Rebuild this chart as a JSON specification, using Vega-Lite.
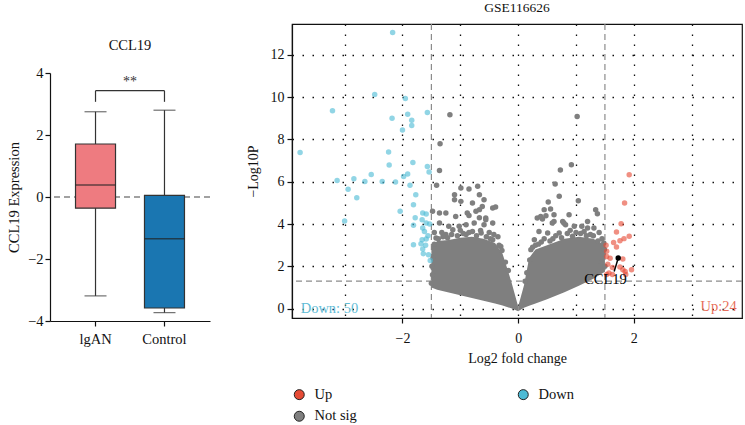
{
  "$schema": "https://vega.github.io/schema/vega-lite/v6.json",
  "background": "white",
  "padding": {"left": 6, "top": 0, "right": 0, "bottom": 0},
  "config": {
    "font": "Liberation Serif",
    "view": {"stroke": null},
    "axis": {"labelFont": "Liberation Serif", "titleFont": "Liberation Serif", "labelColor": "#111", "titleColor": "#111", "titleFontWeight": "normal", "domainColor": "#111", "tickColor": "#111", "domainWidth": 1.2, "tickWidth": 1.2},
    "title": {"font": "Liberation Serif", "fontWeight": "normal", "color": "#111"},
    "legend": {"labelFont": "Liberation Serif", "labelColor": "#111"}
  },
  "datasets": {
    "box": [
      {"group": "lgAN", "lower": -3.19, "q1": -0.36, "median": 0.39, "q3": 1.71, "upper": 2.75},
      {"group": "Control", "lower": -3.73, "q1": -3.58, "median": -1.35, "q3": 0.05, "upper": 2.8}
    ],
    "bracketH": [{"from": "lgAN", "to": "Control", "y": 3.43, "label": "**", "ly": 3.72}],
    "bracketV": [{"group": "lgAN", "ya": 3.07, "yb": 3.43}, {"group": "Control", "ya": 3.07, "yb": 3.43}],
    "zero": [{"y": 0}],
    "mass": [
      {"wing": "L", "x": -1.5, "lo": 1.0, "hi": 2.95},
      {"wing": "L", "x": -1.4, "lo": 0.9, "hi": 3.2},
      {"wing": "L", "x": -1.2, "lo": 0.77, "hi": 3.25},
      {"wing": "L", "x": -1.0, "lo": 0.64, "hi": 3.35},
      {"wing": "L", "x": -0.8, "lo": 0.5, "hi": 3.4},
      {"wing": "L", "x": -0.6, "lo": 0.37, "hi": 3.3},
      {"wing": "L", "x": -0.4, "lo": 0.24, "hi": 3.1},
      {"wing": "L", "x": -0.27, "lo": 0.15, "hi": 2.6},
      {"wing": "L", "x": -0.12, "lo": 0.02, "hi": 1.3},
      {"wing": "L", "x": 0, "lo": -0.12, "hi": 0.1},
      {"wing": "R", "x": 0, "lo": -0.12, "hi": 0.1},
      {"wing": "R", "x": 0.1, "lo": 0.05, "hi": 1.1},
      {"wing": "R", "x": 0.19, "lo": 0.14, "hi": 2.4},
      {"wing": "R", "x": 0.3, "lo": 0.25, "hi": 2.8},
      {"wing": "R", "x": 0.5, "lo": 0.45, "hi": 3.0},
      {"wing": "R", "x": 0.8, "lo": 0.78, "hi": 3.3},
      {"wing": "R", "x": 1.05, "lo": 1.08, "hi": 3.4},
      {"wing": "R", "x": 1.3, "lo": 1.42, "hi": 3.3},
      {"wing": "R", "x": 1.5, "lo": 1.75, "hi": 3.0}
    ],
    "pts": [
      {"x": -1.18, "y": 9.16, "cat": "Not sig"}, {"x": -1.35, "y": 7.79, "cat": "Not sig"}, {"x": -1.36, "y": 6.53, "cat": "Not sig"},
      {"x": 1.02, "y": 9.08, "cat": "Not sig"}, {"x": 0.92, "y": 6.8, "cat": "Not sig"}, {"x": 0.73, "y": 6.55, "cat": "Not sig"},
      {"x": -1.41, "y": 5.83, "cat": "Not sig"}, {"x": -1.1, "y": 5.38, "cat": "Not sig"}, {"x": -0.99, "y": 5.7, "cat": "Not sig"},
      {"x": -0.85, "y": 5.65, "cat": "Not sig"}, {"x": -0.7, "y": 5.78, "cat": "Not sig"}, {"x": -0.67, "y": 5.38, "cat": "Not sig"},
      {"x": -1.1, "y": 5.15, "cat": "Not sig"}, {"x": -0.99, "y": 5.07, "cat": "Not sig"}, {"x": -0.79, "y": 4.99, "cat": "Not sig"},
      {"x": -0.59, "y": 5.15, "cat": "Not sig"}, {"x": -0.62, "y": 4.83, "cat": "Not sig"}, {"x": -1.48, "y": 4.6, "cat": "Not sig"},
      {"x": -1.36, "y": 4.52, "cat": "Not sig"}, {"x": -1.25, "y": 4.52, "cat": "Not sig"}, {"x": -1.08, "y": 4.36, "cat": "Not sig"},
      {"x": -0.88, "y": 4.52, "cat": "Not sig"}, {"x": -0.73, "y": 4.6, "cat": "Not sig"}, {"x": -0.67, "y": 4.68, "cat": "Not sig"},
      {"x": -0.44, "y": 4.76, "cat": "Not sig"}, {"x": -0.39, "y": 4.8, "cat": "Not sig"}, {"x": -0.85, "y": 4.4, "cat": "Not sig"},
      {"x": -0.67, "y": 4.3, "cat": "Not sig"}, {"x": -0.56, "y": 4.28, "cat": "Not sig"}, {"x": -0.44, "y": 4.05, "cat": "Not sig"},
      {"x": -0.59, "y": 3.97, "cat": "Not sig"}, {"x": -0.76, "y": 4.05, "cat": "Not sig"}, {"x": -0.9, "y": 3.97, "cat": "Not sig"},
      {"x": -0.79, "y": 3.65, "cat": "Not sig"}, {"x": -0.64, "y": 3.58, "cat": "Not sig"}, {"x": -0.44, "y": 3.26, "cat": "Not sig"},
      {"x": -0.3, "y": 2.94, "cat": "Not sig"}, {"x": -1.36, "y": 4.05, "cat": "Not sig"}, {"x": -1.42, "y": 3.34, "cat": "Not sig"},
      {"x": -1.25, "y": 3.5, "cat": "Not sig"}, {"x": -1.13, "y": 3.73, "cat": "Not sig"}, {"x": -1.02, "y": 3.89, "cat": "Not sig"},
      {"x": -0.9, "y": 3.5, "cat": "Not sig"}, {"x": -0.56, "y": 4.2, "cat": "Not sig"}, {"x": -1.2, "y": 3.9, "cat": "Not sig"},
      {"x": -1.45, "y": 3.6, "cat": "Not sig"}, {"x": -1.47, "y": 2.4, "cat": "Not sig"}, {"x": -1.48, "y": 1.6, "cat": "Not sig"},
      {"x": -1.05, "y": 3.45, "cat": "Not sig"}, {"x": -0.5, "y": 3.6, "cat": "Not sig"}, {"x": -0.35, "y": 3.4, "cat": "Not sig"},
      {"x": -1.45, "y": 3.05, "cat": "Not sig"}, {"x": -1.38, "y": 3.3, "cat": "Not sig"}, {"x": -1.3, "y": 3.4, "cat": "Not sig"},
      {"x": -1.22, "y": 3.35, "cat": "Not sig"}, {"x": -1.15, "y": 3.5, "cat": "Not sig"}, {"x": -0.95, "y": 3.55, "cat": "Not sig"},
      {"x": -0.85, "y": 3.6, "cat": "Not sig"}, {"x": -0.72, "y": 3.45, "cat": "Not sig"}, {"x": -0.65, "y": 3.7, "cat": "Not sig"},
      {"x": -0.55, "y": 3.4, "cat": "Not sig"}, {"x": -0.48, "y": 3.3, "cat": "Not sig"}, {"x": -0.42, "y": 3.5, "cat": "Not sig"},
      {"x": -0.33, "y": 3.0, "cat": "Not sig"}, {"x": -0.28, "y": 2.75, "cat": "Not sig"}, {"x": -0.22, "y": 2.2, "cat": "Not sig"},
      {"x": -0.17, "y": 1.8, "cat": "Not sig"}, {"x": -1.49, "y": 2.0, "cat": "Not sig"}, {"x": -1.5, "y": 1.2, "cat": "Not sig"},
      {"x": -1.32, "y": 3.6, "cat": "Not sig"}, {"x": -1.0, "y": 3.7, "cat": "Not sig"},
      {"x": 0.64, "y": 5.89, "cat": "Not sig"}, {"x": 0.71, "y": 5.31, "cat": "Not sig"}, {"x": 1.04, "y": 5.1, "cat": "Not sig"},
      {"x": 0.52, "y": 5.04, "cat": "Not sig"}, {"x": 1.34, "y": 4.68, "cat": "Not sig"}, {"x": 1.37, "y": 4.49, "cat": "Not sig"},
      {"x": 0.45, "y": 4.68, "cat": "Not sig"}, {"x": 0.56, "y": 4.71, "cat": "Not sig"}, {"x": 0.62, "y": 4.44, "cat": "Not sig"},
      {"x": 0.33, "y": 4.28, "cat": "Not sig"}, {"x": 0.42, "y": 4.24, "cat": "Not sig"}, {"x": 0.88, "y": 4.44, "cat": "Not sig"},
      {"x": 1.2, "y": 4.12, "cat": "Not sig"}, {"x": 0.77, "y": 4.12, "cat": "Not sig"}, {"x": 1.31, "y": 3.81, "cat": "Not sig"},
      {"x": 1.2, "y": 3.81, "cat": "Not sig"}, {"x": 0.39, "y": 4.36, "cat": "Not sig"}, {"x": 0.48, "y": 4.39, "cat": "Not sig"},
      {"x": 0.62, "y": 4.12, "cat": "Not sig"}, {"x": 0.79, "y": 4.05, "cat": "Not sig"}, {"x": 0.97, "y": 3.89, "cat": "Not sig"},
      {"x": 1.14, "y": 3.65, "cat": "Not sig"}, {"x": 0.59, "y": 4.05, "cat": "Not sig"}, {"x": 0.51, "y": 3.58, "cat": "Not sig"},
      {"x": 0.36, "y": 3.65, "cat": "Not sig"}, {"x": 0.28, "y": 3.26, "cat": "Not sig"}, {"x": 0.71, "y": 3.58, "cat": "Not sig"},
      {"x": 0.82, "y": 3.97, "cat": "Not sig"}, {"x": 0.94, "y": 3.42, "cat": "Not sig"}, {"x": 0.22, "y": 2.79, "cat": "Not sig"},
      {"x": 1.0, "y": 3.6, "cat": "Not sig"}, {"x": 1.1, "y": 3.9, "cat": "Not sig"}, {"x": 0.6, "y": 3.3, "cat": "Not sig"},
      {"x": 1.45, "y": 3.3, "cat": "Not sig"}, {"x": 1.47, "y": 2.6, "cat": "Not sig"}, {"x": 1.44, "y": 2.2, "cat": "Not sig"},
      {"x": 1.4, "y": 3.6, "cat": "Not sig"}, {"x": 0.3, "y": 3.0, "cat": "Not sig"}, {"x": 0.45, "y": 3.3, "cat": "Not sig"},
      {"x": 1.25, "y": 3.5, "cat": "Not sig"},
      {"x": 0.15, "y": 1.7, "cat": "Not sig"}, {"x": 0.2, "y": 2.3, "cat": "Not sig"}, {"x": 0.25, "y": 2.9, "cat": "Not sig"},
      {"x": 0.35, "y": 3.05, "cat": "Not sig"}, {"x": 0.4, "y": 3.15, "cat": "Not sig"}, {"x": 0.55, "y": 3.2, "cat": "Not sig"},
      {"x": 0.65, "y": 3.45, "cat": "Not sig"}, {"x": 0.75, "y": 3.35, "cat": "Not sig"}, {"x": 0.85, "y": 3.55, "cat": "Not sig"},
      {"x": 0.9, "y": 3.7, "cat": "Not sig"}, {"x": 1.08, "y": 3.55, "cat": "Not sig"}, {"x": 1.18, "y": 3.45, "cat": "Not sig"},
      {"x": 1.3, "y": 3.45, "cat": "Not sig"}, {"x": 1.38, "y": 3.2, "cat": "Not sig"}, {"x": 1.48, "y": 3.1, "cat": "Not sig"},
      {"x": 1.5, "y": 2.0, "cat": "Not sig"}, {"x": 1.49, "y": 2.8, "cat": "Not sig"}, {"x": 0.12, "y": 1.3, "cat": "Not sig"},
      {"x": -2.17, "y": 13.05, "cat": "Down"}, {"x": -2.48, "y": 10.12, "cat": "Down"}, {"x": -1.95, "y": 9.93, "cat": "Down"},
      {"x": -3.21, "y": 9.35, "cat": "Down"}, {"x": -2.18, "y": 9.0, "cat": "Down"}, {"x": -1.91, "y": 9.19, "cat": "Down"},
      {"x": -1.84, "y": 8.9, "cat": "Down"}, {"x": -1.84, "y": 8.66, "cat": "Down"}, {"x": -2.0, "y": 8.44, "cat": "Down"},
      {"x": -1.57, "y": 9.27, "cat": "Down"}, {"x": -3.77, "y": 7.38, "cat": "Down"}, {"x": -2.24, "y": 7.4, "cat": "Down"},
      {"x": -2.23, "y": 6.79, "cat": "Down"}, {"x": -1.82, "y": 6.91, "cat": "Down"}, {"x": -1.57, "y": 6.72, "cat": "Down"},
      {"x": -1.54, "y": 6.46, "cat": "Down"}, {"x": -1.98, "y": 6.25, "cat": "Down"}, {"x": -1.91, "y": 6.36, "cat": "Down"},
      {"x": -3.13, "y": 6.06, "cat": "Down"}, {"x": -2.94, "y": 5.64, "cat": "Down"}, {"x": -2.84, "y": 6.14, "cat": "Down"},
      {"x": -2.79, "y": 5.24, "cat": "Down"}, {"x": -2.65, "y": 6.01, "cat": "Down"}, {"x": -2.54, "y": 6.34, "cat": "Down"},
      {"x": -2.35, "y": 6.01, "cat": "Down"}, {"x": -2.12, "y": 5.98, "cat": "Down"}, {"x": -1.87, "y": 5.83, "cat": "Down"},
      {"x": -1.77, "y": 5.38, "cat": "Down"}, {"x": -1.81, "y": 4.91, "cat": "Down"}, {"x": -2.04, "y": 4.6, "cat": "Down"},
      {"x": -1.78, "y": 4.3, "cat": "Down"}, {"x": -1.66, "y": 4.2, "cat": "Down"}, {"x": -1.65, "y": 4.52, "cat": "Down"},
      {"x": -1.59, "y": 4.47, "cat": "Down"}, {"x": -3.0, "y": 4.14, "cat": "Down"}, {"x": -1.81, "y": 3.94, "cat": "Down"},
      {"x": -1.59, "y": 4.05, "cat": "Down"}, {"x": -1.65, "y": 3.81, "cat": "Down"}, {"x": -1.62, "y": 3.65, "cat": "Down"},
      {"x": -1.66, "y": 3.26, "cat": "Down"}, {"x": -1.59, "y": 3.29, "cat": "Down"}, {"x": -1.68, "y": 3.07, "cat": "Down"},
      {"x": -1.81, "y": 3.02, "cat": "Down"}, {"x": -1.65, "y": 2.82, "cat": "Down"}, {"x": -1.64, "y": 2.6, "cat": "Down"},
      {"x": -1.55, "y": 2.55, "cat": "Down"}, {"x": -1.52, "y": 2.28, "cat": "Down"}, {"x": -1.6, "y": 3.0, "cat": "Down"},
      {"x": -1.56, "y": 3.45, "cat": "Down"}, {"x": -1.53, "y": 4.0, "cat": "Down"},
      {"x": 1.92, "y": 6.33, "cat": "Up"}, {"x": 1.84, "y": 4.99, "cat": "Up"}, {"x": 1.78, "y": 4.01, "cat": "Up"},
      {"x": 1.7, "y": 3.62, "cat": "Up"}, {"x": 1.92, "y": 3.42, "cat": "Up"}, {"x": 1.83, "y": 3.31, "cat": "Up"},
      {"x": 1.76, "y": 3.21, "cat": "Up"}, {"x": 1.65, "y": 3.13, "cat": "Up"}, {"x": 1.7, "y": 2.91, "cat": "Up"},
      {"x": 1.53, "y": 2.71, "cat": "Up"}, {"x": 1.53, "y": 2.47, "cat": "Up"}, {"x": 1.59, "y": 2.38, "cat": "Up"},
      {"x": 1.81, "y": 2.35, "cat": "Up"}, {"x": 1.76, "y": 1.97, "cat": "Up"}, {"x": 1.63, "y": 1.95, "cat": "Up"},
      {"x": 1.96, "y": 1.84, "cat": "Up"}, {"x": 1.85, "y": 1.76, "cat": "Up"}, {"x": 1.53, "y": 1.61, "cat": "Up"},
      {"x": 1.57, "y": 1.69, "cat": "Up"}, {"x": 1.63, "y": 1.61, "cat": "Up"}, {"x": 1.86, "y": 1.61, "cat": "Up"},
      {"x": 1.81, "y": 1.84, "cat": "Up"}, {"x": 1.55, "y": 2.1, "cat": "Up"}, {"x": 1.52, "y": 3.0, "cat": "Up"}
    ],
    "vthr": [{"x": -1.5}, {"x": 1.5}],
    "hthr": [{"y": 1.301}],
    "gene": [{"gene": "CCL19", "x": 1.73, "y": 2.39, "lx": 1.66, "ly": 1.76, "tx": 1.51, "ty": 1.37}],
    "counts": [{"label": "Down: 50", "x": -3.76, "y": -0.02}],
    "countsUp": [{"label": "Up:24", "x": 3.78, "y": 0.08}]
  },
  "resolve": {"scale": {"color": "independent", "x": "independent", "y": "independent"}, "legend": {"color": "independent"}},
  "spacing": 34,
  "hconcat": [
    {
      "spacing": 12,
      "vconcat": [
        {"width": 160, "height": 1, "data": {"values": []}, "mark": "point", "encoding": {}},
        {
          "width": 160,
          "height": 248,
          "title": {"text": "CCL19", "fontSize": 14.5, "offset": 12},
          "layer": [
            {
              "data": {"name": "zero"},
              "mark": {"type": "rule", "strokeDash": [6, 4], "color": "#444", "strokeWidth": 1.2},
              "encoding": {"y": {"field": "y", "type": "quantitative", "scale": {"domain": [-4, 4], "nice": false}, "axis": {"title": "CCL19 Expression", "titleFontSize": 14.5, "labelFontSize": 14.5, "values": [-4, -2, 0, 2, 4], "tickSize": 5, "grid": false, "titlePadding": 6, "labelPadding": 2}}}
            },
            {
              "data": {"name": "box"},
              "mark": {"type": "rule", "color": "#333", "strokeWidth": 1.2},
              "encoding": {
                "x": {"field": "group", "type": "nominal", "scale": {"domain": ["lgAN", "Control"], "paddingInner": 0.42, "paddingOuter": 0.37}, "axis": {"title": null, "labelAngle": 0, "labelFontSize": 14.5, "tickSize": 5, "labelPadding": 6}},
                "y": {"field": "lower", "type": "quantitative"},
                "y2": {"field": "upper"}
              }
            },
            {
              "data": {"name": "box"},
              "mark": {"type": "tick", "color": "#333", "size": 22, "thickness": 1.2},
              "encoding": {
                "x": {"field": "group", "type": "nominal"},
                "y": {"field": "lower", "type": "quantitative"}
              }
            },
            {
              "data": {"name": "box"},
              "mark": {"type": "tick", "color": "#333", "size": 22, "thickness": 1.2},
              "encoding": {
                "x": {"field": "group", "type": "nominal"},
                "y": {"field": "upper", "type": "quantitative"}
              }
            },
            {
              "data": {"name": "box"},
              "mark": {"type": "bar", "size": 40, "stroke": "#333", "strokeWidth": 1.2},
              "encoding": {
                "x": {"field": "group", "type": "nominal"},
                "y": {"field": "q1", "type": "quantitative"},
                "y2": {"field": "q3"},
                "color": {"field": "group", "type": "nominal", "scale": {"domain": ["lgAN", "Control"], "range": ["#EE7B80", "#1A76B1"]}, "legend": null}
              }
            },
            {
              "data": {"name": "box"},
              "mark": {"type": "tick", "color": "#222", "size": 40, "thickness": 1.5},
              "encoding": {
                "x": {"field": "group", "type": "nominal"},
                "y": {"field": "median", "type": "quantitative"}
              }
            },
            {
              "data": {"name": "bracketV"},
              "mark": {"type": "rule", "color": "#333", "strokeWidth": 1.2},
              "encoding": {
                "x": {"field": "group", "type": "nominal"},
                "y": {"field": "ya", "type": "quantitative"},
                "y2": {"field": "yb"}
              }
            },
            {
              "data": {"name": "bracketH"},
              "mark": {"type": "rule", "color": "#333", "strokeWidth": 1.2},
              "encoding": {
                "x": {"field": "from", "type": "nominal"},
                "x2": {"field": "to"},
                "y": {"field": "y", "type": "quantitative"}
              }
            },
            {
              "data": {"name": "bracketH"},
              "mark": {"type": "text", "color": "#333", "fontSize": 14, "dx": 34.5, "baseline": "middle"},
              "encoding": {
                "x": {"field": "from", "type": "nominal"},
                "y": {"field": "ly", "type": "quantitative"},
                "text": {"field": "label"}
              }
            }
          ]
        }
      ]
    },
    {
      "width": 450,
      "height": 294,
      "view": {"stroke": "#111", "strokeWidth": 1.2},
      "title": {"text": "GSE116626", "fontSize": 13.5, "offset": 9},
      "layer": [
        {
          "data": {"name": "vthr"},
          "mark": {"type": "rule", "color": "#8C8C8C", "strokeDash": [6, 4], "strokeWidth": 1.2},
          "encoding": {"x": {"field": "x", "type": "quantitative", "scale": {"domain": [-3.91, 3.87], "nice": false, "zero": false},
              "axis": {"title": "Log2 fold change", "titleFontSize": 14, "labelFontSize": 14, "format": "d", "values": [-3, -2, -1, 0, 1, 2, 3], "labelExpr": "datum.value % 2 === 0 ? datum.label : ''", "tickOpacity": {"condition": {"test": "datum.value % 2 !== 0", "value": 0}, "value": 1}, "grid": true, "gridDash": [1.5, 8.5], "gridColor": "#111", "gridWidth": 1.3, "tickSize": 5, "labelPadding": 8, "titlePadding": 6}}}
        },
        {
          "data": {"name": "hthr"},
          "mark": {"type": "rule", "color": "#8C8C8C", "strokeDash": [6, 4], "strokeWidth": 1.2},
          "encoding": {"y": {"field": "y", "type": "quantitative", "scale": {"domain": [-0.44, 13.45], "nice": false, "zero": false},
              "axis": {"title": "−Log10P", "titleFontSize": 14, "labelFontSize": 14, "format": "d", "values": [0, 1, 2, 3, 4, 5, 6, 7, 8, 9, 10, 11, 12, 13], "labelExpr": "datum.value % 2 === 0 ? datum.label : ''", "tickOpacity": {"condition": {"test": "datum.value % 2 !== 0", "value": 0}, "value": 1}, "grid": true, "gridDash": [1.5, 8.5], "gridColor": "#111", "gridWidth": 1.3, "tickSize": 5, "labelPadding": 3, "titlePadding": 10}}}
        },
        {
          "data": {"name": "mass"},
          "mark": {"type": "area", "color": "#7F7F7F", "opacity": 1},
          "encoding": {
            "x": {"field": "x", "type": "quantitative"},
            "y": {"field": "hi", "type": "quantitative"},
            "y2": {"field": "lo"},
            "detail": {"field": "wing", "type": "nominal"}
          }
        },
        {
          "data": {"name": "pts"},
          "mark": {"type": "circle", "size": 30},
          "encoding": {
            "x": {"field": "x", "type": "quantitative"},
            "y": {"field": "y", "type": "quantitative"},
            "color": {"field": "cat", "type": "nominal", "scale": {"domain": ["Up", "Down", "Not sig"], "range": ["#E64B35", "#4DBBD5", "#7F7F7F"]},
              "legend": {"title": null, "orient": "bottom", "direction": "horizontal", "columns": 2, "columnPadding": 159, "rowPadding": 6, "padding": 0, "symbolType": "circle", "symbolSize": 100, "symbolStrokeColor": "#222", "symbolStrokeWidth": 1, "symbolOpacity": 1, "labelFontSize": 14.5, "labelOffset": 8, "offset": 22}},
            "opacity": {"condition": {"test": "datum.cat === 'Not sig'", "value": 1}, "value": 0.62}
          }
        },
        {
          "data": {"name": "gene"},
          "mark": {"type": "rule", "color": "#000", "strokeWidth": 1.5},
          "encoding": {"x": {"field": "lx", "type": "quantitative"}, "y": {"field": "ly", "type": "quantitative"}, "x2": {"field": "x"}, "y2": {"field": "y"}}
        },
        {
          "data": {"name": "gene"},
          "mark": {"type": "circle", "size": 30, "color": "#000", "opacity": 1},
          "encoding": {"x": {"field": "x", "type": "quantitative"}, "y": {"field": "y", "type": "quantitative"}}
        },
        {
          "data": {"name": "gene"},
          "mark": {"type": "text", "color": "#000", "fontSize": 14.5, "align": "center", "baseline": "middle"},
          "encoding": {"x": {"field": "tx", "type": "quantitative"}, "y": {"field": "ty", "type": "quantitative"}, "text": {"field": "gene"}}
        },
        {
          "data": {"name": "counts"},
          "mark": {"type": "text", "color": "#5FBCD6", "fontSize": 14.5, "align": "left", "baseline": "middle"},
          "encoding": {"x": {"field": "x", "type": "quantitative"}, "y": {"field": "y", "type": "quantitative"}, "text": {"field": "label"}}
        },
        {
          "data": {"name": "countsUp"},
          "mark": {"type": "text", "color": "#E8705C", "fontSize": 14.5, "align": "right", "baseline": "middle"},
          "encoding": {"x": {"field": "x", "type": "quantitative"}, "y": {"field": "y", "type": "quantitative"}, "text": {"field": "label"}}
        }
      ]
    }
  ]
}
